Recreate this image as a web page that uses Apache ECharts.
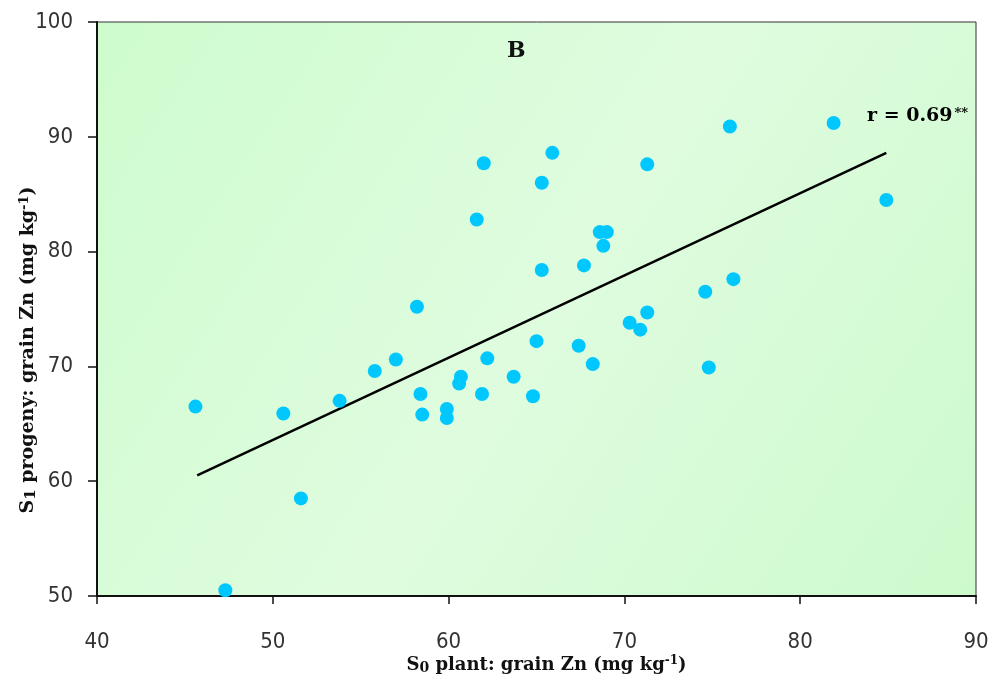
<!DOCTYPE html>
<html>
<head>
<meta charset="utf-8">
<script src="https://cdn.jsdelivr.net/npm/echarts@6/dist/echarts.min.js"></script>
<style>html,body{margin:0;padding:0;background:#fff}#c{width:991px;height:680px}</style>
</head>
<body>
<div id="c"></div>
<script>
// S0 plant grain Zn (x) and S1 progeny grain Zn (y)
const s0Plant = [45.6, 47.3, 50.6, 51.6, 53.8, 55.8, 57.0, 58.2, 58.4, 58.5, 59.9, 59.9, 60.6, 60.7, 61.6, 61.9, 62.0, 62.2, 63.7, 64.8, 65.0, 65.3, 65.3, 65.9, 67.4, 67.7, 68.2, 68.6, 69.0, 68.8, 70.3, 70.9, 71.3, 71.3, 74.6, 74.8, 76.2, 76.0, 81.9, 84.9];
const s1Progeny = [66.5, 50.5, 65.9, 58.5, 67.0, 69.6, 70.6, 75.2, 67.6, 65.8, 66.3, 65.5, 68.5, 69.1, 82.8, 67.6, 87.7, 70.7, 69.1, 67.4, 72.2, 86.0, 78.4, 88.6, 71.8, 78.8, 70.2, 81.7, 81.7, 80.5, 73.8, 73.2, 74.7, 87.6, 76.5, 69.9, 77.6, 90.9, 91.2, 84.5];
// regression line end points
const trendX = [45.7, 84.9];
const trendY = [60.5, 88.6];
const xTicks = [40, 50, 60, 70, 80, 90];
const yTicks = [50, 60, 70, 80, 90, 100];
const rValue = 'r = 0.69';
const rStars = '**';
const panelLabel = 'B';

const chart = echarts.init(document.getElementById('c'));
const serif = '"DejaVu Serif", "Liberation Serif", serif';
const tickFont = { fontFamily: '"Liberation Sans Narrow", "DejaVu Sans Condensed", "Liberation Sans", sans-serif', fontSize: 22, color: '#333' };
function nameRich(size) {
  return {
    n: { fontFamily: serif, fontWeight: 'bold', fontSize: size, color: '#111' },
    sub: { fontFamily: serif, fontWeight: 'bold', fontSize: size - 4, color: '#111', verticalAlign: 'bottom', padding: [6, 0, 0, 0] },
    sup: { fontFamily: serif, fontWeight: 'bold', fontSize: size - 6, color: '#111', verticalAlign: 'top', padding: [0, 0, 8, 0] }
  };
}

chart.setOption({
  animation: false,
  grid: {
    left: 97, right: 15, top: 22, bottom: 84,
    outerBoundsMode: 'none',
    containLabel: false,
    show: true,
    borderColor: '#333', borderWidth: 1,
    backgroundColor: new echarts.graphic.LinearGradient(0, 0, 1, 1, [
      { offset: 0, color: '#cefcce' },
      { offset: 0.5, color: '#dffcdf' },
      { offset: 1, color: '#cdfacd' }
    ])
  },
  xAxis: {
    type: 'value', min: xTicks[0], max: xTicks[xTicks.length - 1], interval: 10,
    splitLine: { show: false },
    axisLine: { lineStyle: { color: '#111', width: 2 } },
    axisTick: { length: 8, lineStyle: { color: '#111', width: 1.5 } },
    axisLabel: Object.assign({ margin: 35 }, tickFont),
    name: '{n|S}{sub|0}{n| plant: grain Zn (mg kg}{sup|-1}{n|)}',
    nameLocation: 'middle', nameGap: 59, nameMoveOverlap: false,
    nameTextStyle: { padding: [0, 0, 0, 20], rich: nameRich(18) }
  },
  yAxis: {
    type: 'value', min: yTicks[0], max: yTicks[yTicks.length - 1], interval: 10,
    splitLine: { show: false },
    axisLine: { lineStyle: { color: '#111', width: 2 } },
    axisTick: { length: 9, lineStyle: { color: '#111', width: 1.5 } },
    axisLabel: Object.assign({ margin: 24 }, tickFont),
    name: '{n|S}{sub|1}{n| progeny: grain Zn (mg kg}{sup|-1}{n|)}',
    nameLocation: 'middle', nameGap: 58, nameMoveOverlap: false,
    nameTextStyle: { padding: [0, 82, 0, 0], rich: nameRich(19) }
  },
  series: [
    {
      type: 'line',
      data: trendX.map((x, i) => [x, trendY[i]]),
      symbol: 'none',
      lineStyle: { color: '#000', width: 2.5 },
      z: 2
    },
    {
      type: 'scatter',
      data: s0Plant.map((x, i) => [x, s1Progeny[i]]),
      symbol: 'circle', symbolSize: 14,
      itemStyle: { color: '#00c8ff', opacity: 1 },
      z: 3
    }
  ],
  graphic: [
    { type: 'text', left: 507, top: 40, style: { text: panelLabel, fontFamily: serif, fontWeight: 'bold', fontSize: 22, fill: '#111' } },
    { type: 'text', left: 867, top: 107, style: {
        text: '{a|' + rValue + '}{s|' + rStars + '}',
        rich: {
          a: { fontFamily: serif, fontWeight: 'bold', fontSize: 19, color: '#111' },
          s: { fontFamily: serif, fontWeight: 'bold', fontSize: 13, color: '#333', verticalAlign: 'top', padding: [0, 0, 6, 2] }
        }
      } }
  ]
});
</script>
</body>
</html>
